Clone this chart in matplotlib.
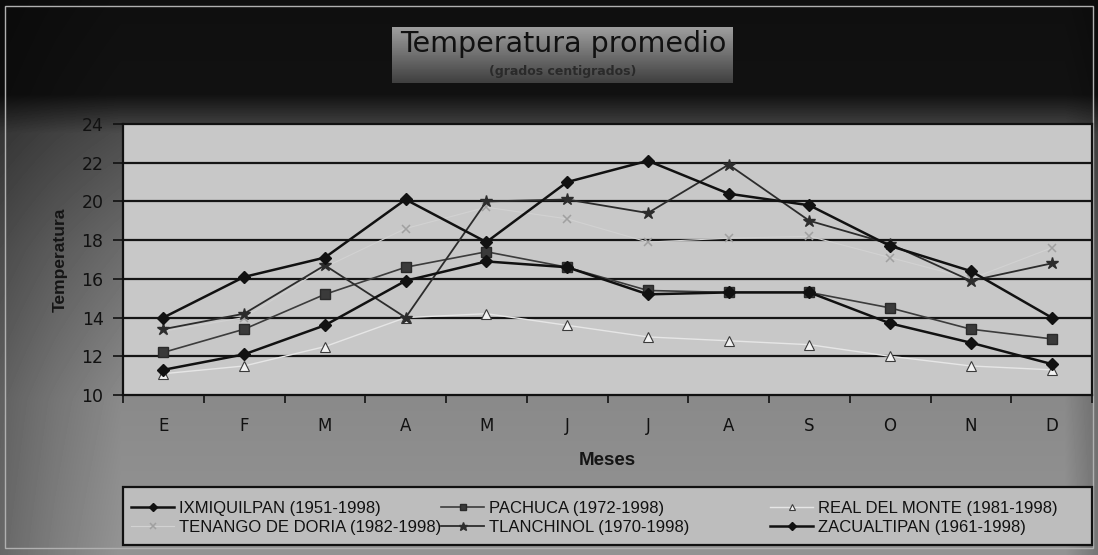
import numpy as np
import matplotlib
matplotlib.use("Agg")
import matplotlib.pyplot as plt
from matplotlib.patches import Rectangle

months = ["E", "F", "M", "A", "M", "J", "J", "A", "S", "O", "N", "D"]
yticks = [10, 12, 14, 16, 18, 20, 22, 24]

ixmiquilpan = [14.0, 16.1, 17.1, 20.1, 17.9, 21.0, 22.1, 20.4, 19.8, 17.7, 16.4, 14.0]
pachuca = [12.2, 13.4, 15.2, 16.6, 17.4, 16.6, 15.4, 15.3, 15.3, 14.5, 13.4, 12.9]
real_del_monte = [11.1, 11.5, 12.5, 14.0, 14.2, 13.6, 13.0, 12.8, 12.6, 12.0, 11.5, 11.3]
tenango = [13.3, 14.0, 16.6, 18.6, 19.7, 19.1, 17.9, 18.1, 18.2, 17.1, 16.0, 17.6]
tlanchinol = [13.4, 14.2, 16.7, 14.0, 20.0, 20.1, 19.4, 21.9, 19.0, 17.8, 15.9, 16.8]
zacualtipan = [11.3, 12.1, 13.6, 15.9, 16.9, 16.6, 15.2, 15.3, 15.3, 13.7, 12.7, 11.6]

labels = {
    "ix": "IXMIQUILPAN (1951-1998)",
    "pa": "PACHUCA (1972-1998)",
    "rm": "REAL DEL MONTE (1981-1998)",
    "te": "TENANGO DE DORIA (1982-1998)",
    "tl": "TLANCHINOL (1970-1998)",
    "za": "ZACUALTIPAN (1961-1998)",
}

plt.rcParams['font.family'] = ['Liberation Sans', 'DejaVu Sans']

W, H = 1098, 555
fig = plt.figure(figsize=(W / 100, H / 100), dpi=100)

# background gradient
bg = fig.add_axes([0, 0, 1, 1], zorder=-10)
rows = np.linspace(0, 1, H)
yp = [0, 0.17, 0.2, 0.24, 0.45, 0.72, 1.0]
vp = [0.06, 0.07, 0.17, 0.30, 0.42, 0.54, 0.58]
col = np.interp(rows, yp, vp)
xs = np.linspace(0, 1, W)
xfac = np.interp(xs, [0, 0.05, 0.11, 0.97, 1.0], [0.7, 0.85, 1.0, 1.0, 0.8])
img = col[:, None] * xfac[None, :]
bg.imshow(img, cmap="gray", vmin=0, vmax=1, aspect="auto", extent=[0, 1, 0, 1], origin="upper")
bg.set_xlim(0, 1); bg.set_ylim(0, 1)
bg.axis("off")
bg.add_patch(Rectangle((0.005, 0.012), 0.99, 0.978, fill=False, edgecolor="#b0b0b0", lw=1.0))

# title box with gradient
tb = fig.add_axes([392 / W, 1 - 83 / H, (733 - 392) / W, (83 - 27) / H], zorder=-5)
g = np.linspace(0.62, 0.25, 60)[:, None] * np.ones((1, 10))
tb.imshow(g, cmap="gray", vmin=0, vmax=1, aspect="auto", extent=[0, 1, 0, 1])
tb.set_xlim(0, 1); tb.set_ylim(0, 1)
tb.axis("off")
fig.text(563 / W, 1 - 44 / H, "Temperatura promedio", ha="center", va="center",
         fontsize=20.5, family="DejaVu Sans", color="#111111")
fig.text(563 / W, 1 - 71 / H, "(grados centigrados)", ha="center", va="center",
         fontsize=9, family="DejaVu Sans", weight="bold", color="#2a2a2a")

# main axes
ax = fig.add_axes([123 / W, 1 - 395 / H, (1092 - 123) / W, (395 - 124) / H], zorder=1)
ax.set_facecolor("#c8c8c8")
x = np.arange(len(months))

ax.set_ylim(10, 24)
ax.set_xlim(-0.5, len(months) - 0.5)
for yv in yticks[1:-1]:
    ax.axhline(yv, color="#151515", lw=1.6, zorder=1)

h_te, = ax.plot(x, tenango, color="#d2d2d2", lw=0.8, marker="x", ms=6, mew=1.1,
                mec="#a0a0a0", label=labels["te"], zorder=2)
h_rm, = ax.plot(x, real_del_monte, color="#e6e6e6", lw=1.0, marker="^", ms=7,
                mfc="#f2f2f2", mec="#3a3a3a", mew=0.8, label=labels["rm"], zorder=3)
h_pa, = ax.plot(x, pachuca, color="#3c3c3c", lw=1.2, marker="s", ms=7,
                mfc="#3a3a3a", mec="#2a2a2a", label=labels["pa"], zorder=4)
h_tl, = ax.plot(x, tlanchinol, color="#2c2c2c", lw=1.3, marker="*", ms=9,
                mfc="#2c2c2c", mec="#2c2c2c", label=labels["tl"], zorder=5)
h_za, = ax.plot(x, zacualtipan, color="#111111", lw=1.8, marker="D", ms=6.5,
                mfc="#111111", mec="#111111", label=labels["za"], zorder=6)
h_ix, = ax.plot(x, ixmiquilpan, color="#111111", lw=1.8, marker="D", ms=6.5,
                mfc="#111111", mec="#111111", label=labels["ix"], zorder=7)

ax.set_yticks(yticks)
ax.set_yticklabels([str(v) for v in yticks], family="DejaVu Sans")
ax.set_xticks(x)
ax.set_xticklabels(months, family="DejaVu Sans")
ax.set_xticks(np.arange(-0.5, len(months), 1.0), minor=True)
ax.tick_params(axis="x", which="major", length=0, pad=16, labelsize=12, colors="#111111")
ax.tick_params(axis="x", which="minor", length=6, width=1.2, direction="out", color="#111111")
ax.tick_params(axis="y", length=7, width=1.2, direction="out", pad=7, labelsize=12.5,
               colors="#111111")
for s in ax.spines.values():
    s.set_color("#111111")
    s.set_linewidth(1.6)

ax.set_ylabel("Temperatura", fontsize=12.5, weight="bold", color="#151515", labelpad=10)
ax.set_xlabel("Meses", fontsize=13.5, weight="bold", color="#151515", labelpad=12)

# legend frame
bg.add_patch(Rectangle((123 / W, 1 - 545 / H), (1092 - 123) / W, (545 - 487) / H,
                       facecolor="#bdbdbd", edgecolor="#111111", lw=1.6, zorder=5))

columns = [([h_ix, h_te], 131), ([h_pa, h_tl], 441), ([h_rm, h_za], 770)]
for hs, x0 in columns:
    lg = fig.legend(handles=hs, labels=[h.get_label() for h in hs],
                    loc="upper left", bbox_to_anchor=(x0 / W, 1 - 501 / H),
                    fontsize=12, frameon=False, handlelength=2.6,
                    handletextpad=0.3, borderaxespad=0, borderpad=0,
                    labelspacing=0.22, markerscale=0.7)
    for t in lg.get_texts():
        t.set_color("#111111")

fig.savefig("out.png", dpi=100)
